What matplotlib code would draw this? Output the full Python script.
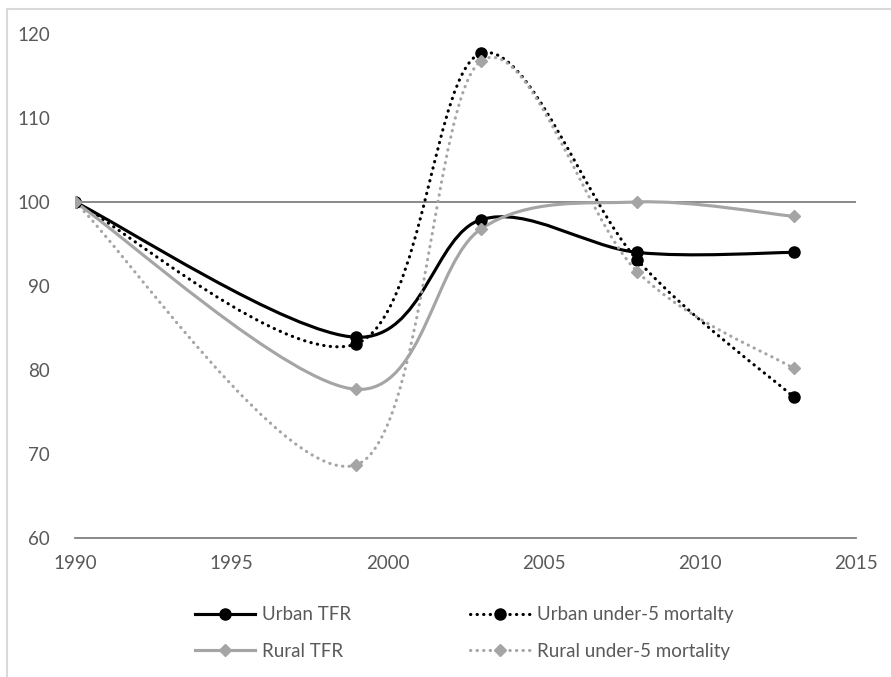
import matplotlib.pyplot as plt
from matplotlib.path import Path
from matplotlib.patches import PathPatch, Rectangle
from matplotlib.lines import Line2D

plt.rcParams['font.family'] = ['Lato', 'DejaVu Sans']

years = [1990, 1999, 2003, 2008, 2013]
urban_tfr = [100, 83.9, 97.9, 94.0, 94.0]
urban_u5 = [100, 83.1, 117.7, 93.1, 76.8]
rural_tfr = [100, 77.7, 96.8, 100.0, 98.3]
rural_u5 = [100, 68.7, 116.8, 91.7, 80.2]

labels = ['Urban TFR', 'Urban under-5 mortalty', 'Rural TFR', 'Rural under-5 mortality']

BLACK = '#000000'
GREY = '#a5a5a5'
TXT = '#595959'


def smooth_path(x, y, t=1/6):
    # Excel-like smoothed line: cubic bezier through every point
    n = len(x)
    pts = list(zip(x, y))
    verts = [pts[0]]
    codes = [Path.MOVETO]
    for i in range(n - 1):
        p0 = pts[max(i - 1, 0)]
        p1 = pts[i]
        p2 = pts[i + 1]
        p3 = pts[min(i + 2, n - 1)]
        c1 = (p1[0] + (p2[0] - p0[0]) * t, p1[1] + (p2[1] - p0[1]) * t)
        c2 = (p2[0] - (p3[0] - p1[0]) * t, p2[1] - (p3[1] - p1[1]) * t)
        verts += [c1, c2, p2]
        codes += [Path.CURVE4] * 3
    return Path(verts, codes)


fig = plt.figure(figsize=(8.91, 6.77), dpi=100)
fig.patches.append(Rectangle((7 / 891, -0.1), 1.2, 1 - 9 / 677 + 0.1, transform=fig.transFigure,
                             fill=False, ec='#d9d9d9', lw=1.5))
ax = fig.add_axes([75 / 891, 1 - 538 / 677, (856 - 75) / 891, (538 - 34) / 677])

ax.set_xlim(1990, 2015)
ax.set_ylim(60, 120)
ax.axhline(100, color='#808080', lw=1.3, zorder=1)

dots = (0, (0.1, 2.0))
series = [
    (urban_tfr, BLACK, '-', 'o', 8),
    (urban_u5, BLACK, dots, 'o', 8),
    (rural_tfr, GREY, '-', 'D', 6),
    (rural_u5, GREY, dots, 'D', 6),
]
handles = []
for (vals, col, ls, mk, ms), lab in zip(series, labels):
    ax.add_patch(PathPatch(smooth_path(years, vals), fill=False, ec=col, lw=2.25,
                           ls=ls, capstyle='round', zorder=2))
    ax.plot(years, vals, ls='none', marker=mk, ms=ms, color=col, zorder=3)
    handles.append(Line2D([], [], color=col, lw=2.25, ls=ls, marker=mk, ms=ms,
                          dash_capstyle='round', label=lab))

ax.set_xticks([1990, 1995, 2000, 2005, 2010, 2015])
ax.set_yticks(range(60, 121, 10))
ax.tick_params(length=0, labelsize=13.5, labelcolor=TXT, pad=12)
ax.tick_params(axis='y', pad=18)
for s in ['top', 'right', 'left']:
    ax.spines[s].set_visible(False)
ax.spines['bottom'].set_color('#808080')
ax.spines['bottom'].set_linewidth(1.3)

order = [0, 2, 1, 3]
leg = fig.legend([handles[i] for i in order], [labels[i] for i in order], ncol=2,
                 loc='center left', bbox_to_anchor=(178 / 891, 1 - 633 / 677),
                 frameon=False, fontsize=13.5, labelcolor=TXT, handlelength=3.2,
                 columnspacing=6.3, handletextpad=0.4, labelspacing=1.05)

fig.savefig('out.png', dpi=100)
